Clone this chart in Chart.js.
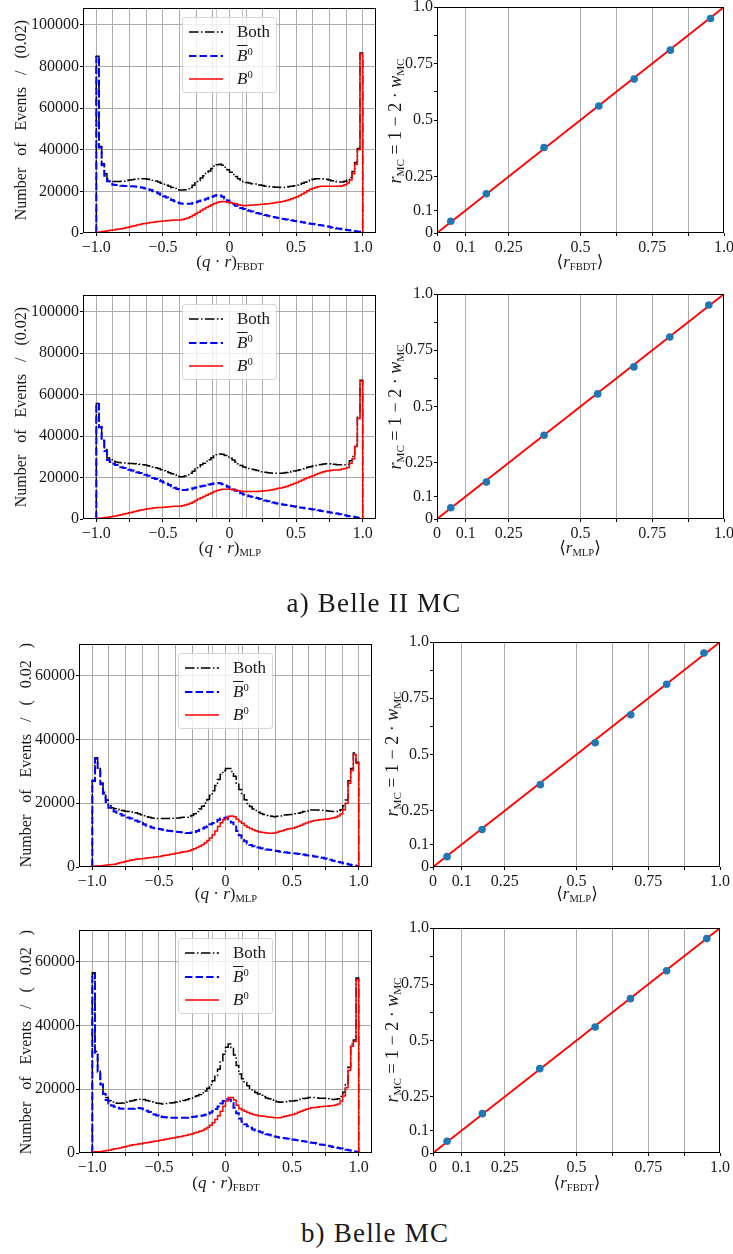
<!DOCTYPE html>
<html>
<head>
<meta charset="utf-8">
<title>Flavour tagger output and calibration</title>
<script src="https://cdn.jsdelivr.net/npm/chart.js@4.4.1/dist/chart.umd.min.js"></script>
<style>
    html, body { margin: 0; padding: 0; background: #ffffff; }
    #page { position: relative; width: 733px; height: 1254px; overflow: hidden;
            font-family: 'Liberation Serif', 'DejaVu Serif', serif; color: #1a1a1a; }
    #page canvas { position: absolute; }
    .txt { position: absolute; white-space: nowrap; line-height: 1; font-size: 17px; }
    .ctr { transform: translate(-50%, -50%); }
    .rot { transform: translate(-50%, -50%) rotate(-90deg); }
    .txt sub, .legend sub { font-size: 0.62em; vertical-align: -0.3em; line-height: 0; }
    .txt sup, .legend sup { font-size: 0.62em; vertical-align: 0.6em; line-height: 0; }
    .ytitle { font-size: 16px; word-spacing: 8px; }
    .caltitle { font-size: 18px; }
    .caption { font-size: 27px; letter-spacing: 1.2px; }
    .legend { position: absolute; width: 95px; height: 76px; box-sizing: border-box;
              border: 1px solid #d6d6d6; border-radius: 3px; background: rgba(255, 255, 255, 0.8); }
    .legend .row { position: absolute; left: 0; width: 100%; height: 20px; }
    .legend svg { position: absolute; left: 6px; top: 8px; }
    .legend .name { position: absolute; left: 54px; top: 0; font-size: 17px; line-height: 20px; }
    .bbar { text-decoration: overline; text-decoration-thickness: 1px; }
</style>
</head>
<body>
<div id="page"></div>
<script>
// Flavour tagger output distributions (left) and r calibration (right)
// Histogram contents are entries per 0.02 bin, in thousands of events

// binning shared by the four histograms: 100 bins on [-1, 1]
const BIN_START = -1.0;
const BIN_WIDTH = 0.02;

// a) Belle II MC, FBDT
const b2FbdtBoth = [
    84.8, 41.5, 33.2, 28.4, 25.9, 24.9, 24.7, 24.7, 24.7, 24.8,
    24.9, 25.2, 25.4, 25.6, 25.8, 26.0, 26.1, 26.1, 26.0, 25.8,
    25.6, 25.3, 25.0, 24.5, 23.9, 23.4, 22.9, 22.4, 21.9, 21.4,
    20.8, 20.6, 20.6, 20.8, 21.2, 21.9, 22.9, 24.1, 25.2, 26.4,
    27.5, 28.6, 29.8, 31.0, 32.1, 32.8, 33.0, 32.5, 31.6, 30.4,
    29.2, 28.1, 27.1, 26.1, 25.3, 24.6, 24.3, 24.0, 23.7, 23.5,
    23.2, 23.0, 22.8, 22.5, 22.3, 22.2, 22.1, 22.0, 22.0, 21.9,
    21.9, 22.1, 22.3, 22.5, 22.7, 23.0, 23.4, 23.9, 24.4, 25.0,
    25.5, 25.8, 26.0, 26.1, 26.1, 26.0, 25.8, 25.4, 25.1, 24.8,
    24.6, 24.5, 24.5, 24.8, 25.4, 26.7, 29.5, 33.8, 40.6, 86.4
];
const b2FbdtB0bar = [
    84.5, 41.0, 32.5, 27.5, 24.8, 23.6, 23.2, 23.0, 22.8, 22.7,
    22.6, 22.6, 22.5, 22.4, 22.3, 22.2, 22.0, 21.7, 21.4, 21.0,
    20.6, 20.1, 19.6, 19.0, 18.3, 17.6, 17.0, 16.4, 15.8, 15.2,
    14.6, 14.3, 14.1, 14.0, 14.0, 14.1, 14.4, 14.8, 15.2, 15.6,
    16.0, 16.4, 16.9, 17.4, 17.9, 18.2, 18.0, 17.4, 16.6, 15.6,
    14.6, 13.8, 13.1, 12.5, 12.0, 11.5, 11.1, 10.7, 10.3, 10.0,
    9.6, 9.3, 9.0, 8.6, 8.3, 8.0, 7.7, 7.4, 7.2, 6.9,
    6.7, 6.5, 6.3, 6.1, 5.8, 5.6, 5.4, 5.2, 4.9, 4.7,
    4.5, 4.3, 4.1, 3.9, 3.7, 3.5, 3.3, 3.0, 2.7, 2.4,
    2.2, 2.0, 1.8, 1.6, 1.4, 1.2, 1.0, 0.8, 0.6, 0.4
];
const b2FbdtB0 = [
    0.3, 0.5, 0.7, 0.9, 1.1, 1.3, 1.5, 1.7, 1.9, 2.1,
    2.3, 2.6, 2.9, 3.2, 3.5, 3.8, 4.1, 4.4, 4.6, 4.8,
    5.0, 5.2, 5.4, 5.5, 5.6, 5.8, 5.9, 6.0, 6.1, 6.2,
    6.2, 6.3, 6.5, 6.8, 7.2, 7.8, 8.5, 9.3, 10.0, 10.8,
    11.5, 12.2, 12.9, 13.6, 14.2, 14.6, 15.0, 15.1, 15.0, 14.8,
    14.6, 14.3, 14.0, 13.6, 13.3, 13.1, 13.2, 13.3, 13.4, 13.5,
    13.6, 13.7, 13.8, 13.9, 14.0, 14.2, 14.4, 14.6, 14.8, 15.0,
    15.2, 15.6, 16.0, 16.4, 16.9, 17.4, 18.0, 18.7, 19.5, 20.3,
    21.0, 21.5, 21.9, 22.2, 22.4, 22.5, 22.5, 22.4, 22.4, 22.4,
    22.4, 22.5, 22.7, 23.2, 24.0, 25.5, 28.5, 33.0, 40.0, 86.0
];

// a) Belle II MC, MLP
const b2MlpBoth = [
    55.7, 44.6, 38.0, 33.5, 29.4, 28.6, 27.9, 27.5, 27.3, 27.1,
    27.0, 26.9, 26.8, 26.7, 26.6, 26.5, 26.4, 26.2, 26.0, 25.7,
    25.4, 25.1, 24.7, 24.3, 23.8, 23.3, 22.8, 22.3, 21.8, 21.2,
    20.6, 20.4, 20.4, 20.7, 21.3, 22.0, 23.0, 24.1, 25.2, 26.1,
    26.9, 27.8, 28.6, 29.5, 30.4, 31.0, 31.3, 31.2, 30.6, 29.9,
    29.3, 28.4, 27.5, 26.6, 25.8, 25.1, 24.7, 24.3, 24.0, 23.7,
    23.4, 23.1, 22.8, 22.5, 22.3, 22.2, 22.1, 22.1, 22.1, 22.1,
    22.2, 22.4, 22.6, 22.9, 23.1, 23.4, 23.8, 24.2, 24.6, 24.9,
    25.2, 25.5, 25.8, 26.1, 26.3, 26.5, 26.6, 26.6, 26.5, 26.4,
    26.2, 26.1, 26.1, 26.2, 26.3, 28.1, 30.1, 35.9, 49.0, 66.9
];
const b2MlpB0bar = [
    55.4, 44.2, 37.5, 32.8, 28.5, 27.5, 26.6, 26.0, 25.5, 25.0,
    24.6, 24.2, 23.8, 23.4, 23.0, 22.6, 22.2, 21.7, 21.3, 20.8,
    20.3, 19.8, 19.3, 18.8, 18.2, 17.6, 17.0, 16.4, 15.8, 15.1,
    14.5, 14.2, 14.0, 14.0, 14.2, 14.4, 14.8, 15.2, 15.6, 15.8,
    16.0, 16.3, 16.6, 16.9, 17.2, 17.3, 17.2, 16.8, 16.2, 15.5,
    14.9, 14.2, 13.6, 13.0, 12.4, 11.8, 11.4, 11.0, 10.7, 10.4,
    10.1, 9.7, 9.3, 8.9, 8.5, 8.2, 7.9, 7.6, 7.3, 7.1,
    6.9, 6.7, 6.5, 6.3, 6.0, 5.8, 5.6, 5.4, 5.2, 5.0,
    4.8, 4.6, 4.4, 4.2, 3.9, 3.7, 3.5, 3.3, 3.0, 2.8,
    2.6, 2.3, 2.0, 1.8, 1.5, 1.3, 1.1, 0.9, 0.6, 0.4
];
const b2MlpB0 = [
    0.3, 0.4, 0.5, 0.7, 0.9, 1.1, 1.3, 1.5, 1.8, 2.1,
    2.4, 2.7, 3.0, 3.3, 3.6, 3.9, 4.2, 4.5, 4.7, 4.9,
    5.1, 5.3, 5.4, 5.5, 5.6, 5.7, 5.8, 5.9, 6.0, 6.1,
    6.1, 6.2, 6.4, 6.7, 7.1, 7.6, 8.2, 8.9, 9.6, 10.3,
    10.9, 11.5, 12.0, 12.6, 13.2, 13.7, 14.1, 14.4, 14.4, 14.4,
    14.4, 14.2, 13.9, 13.6, 13.4, 13.3, 13.3, 13.3, 13.3, 13.3,
    13.3, 13.4, 13.5, 13.6, 13.8, 14.0, 14.2, 14.5, 14.8, 15.0,
    15.3, 15.7, 16.1, 16.6, 17.1, 17.6, 18.2, 18.8, 19.4, 19.9,
    20.4, 20.9, 21.4, 21.9, 22.4, 22.8, 23.1, 23.3, 23.5, 23.6,
    23.6, 23.8, 24.1, 24.4, 24.8, 26.8, 29.0, 35.0, 48.4, 66.5
];

// b) Belle MC, MLP
const bMlpBoth = [
    27.2, 34.3, 30.9, 26.4, 23.5, 21.0, 19.3, 18.6, 18.3, 18.1,
    17.9, 17.7, 17.5, 17.4, 17.3, 17.2, 17.0, 16.7, 16.4, 16.1,
    15.8, 15.6, 15.4, 15.3, 15.2, 15.2, 15.2, 15.2, 15.2, 15.3,
    15.3, 15.4, 15.4, 15.5, 15.6, 15.6, 15.8, 16.2, 16.7, 17.4,
    18.2, 19.1, 20.1, 21.2, 22.5, 23.9, 25.6, 27.5, 29.1, 30.2,
    30.9, 30.9, 30.0, 28.5, 26.3, 24.3, 22.7, 21.1, 19.9, 19.0,
    18.2, 17.7, 17.2, 16.8, 16.5, 16.2, 16.0, 15.9, 15.8, 15.9,
    16.0, 16.1, 16.3, 16.4, 16.5, 16.5, 16.7, 16.9, 17.1, 17.4,
    17.5, 17.7, 17.9, 17.9, 17.9, 17.8, 17.8, 17.7, 17.6, 17.5,
    17.4, 17.4, 17.6, 18.0, 19.2, 21.0, 27.1, 30.9, 35.8, 32.9
];
const bMlpB0bar = [
    27.0, 34.0, 30.6, 26.0, 23.0, 20.4, 18.6, 17.8, 17.4, 17.0,
    16.6, 16.2, 15.8, 15.5, 15.2, 14.9, 14.6, 14.2, 13.8, 13.4,
    13.0, 12.7, 12.4, 12.2, 12.0, 11.9, 11.7, 11.5, 11.4, 11.3,
    11.2, 11.1, 11.0, 10.9, 10.8, 10.7, 10.7, 10.8, 11.0, 11.3,
    11.7, 12.1, 12.5, 12.9, 13.4, 13.8, 14.3, 14.8, 15.2, 15.4,
    15.5, 15.0, 14.0, 12.7, 11.3, 10.0, 9.0, 8.1, 7.4, 6.9,
    6.5, 6.3, 6.1, 5.9, 5.7, 5.5, 5.4, 5.3, 5.1, 5.0,
    4.8, 4.7, 4.6, 4.5, 4.4, 4.3, 4.2, 4.1, 4.0, 3.9,
    3.7, 3.6, 3.5, 3.3, 3.2, 3.0, 2.9, 2.7, 2.5, 2.3,
    2.0, 1.8, 1.6, 1.4, 1.2, 1.0, 0.8, 0.6, 0.5, 0.3
];
const bMlpB0 = [
    0.2, 0.3, 0.3, 0.4, 0.5, 0.6, 0.7, 0.8, 0.9, 1.1,
    1.3, 1.5, 1.7, 1.9, 2.1, 2.3, 2.4, 2.5, 2.6, 2.7,
    2.8, 2.9, 3.0, 3.1, 3.2, 3.3, 3.5, 3.7, 3.8, 4.0,
    4.1, 4.3, 4.4, 4.6, 4.8, 4.9, 5.1, 5.4, 5.7, 6.1,
    6.5, 7.0, 7.6, 8.3, 9.1, 10.1, 11.3, 12.7, 13.9, 14.8,
    15.4, 15.9, 16.0, 15.8, 15.0, 14.3, 13.7, 13.0, 12.5, 12.1,
    11.7, 11.4, 11.1, 10.9, 10.8, 10.7, 10.6, 10.6, 10.7, 10.9,
    11.2, 11.4, 11.7, 11.9, 12.1, 12.2, 12.5, 12.8, 13.1, 13.5,
    13.8, 14.1, 14.4, 14.6, 14.7, 14.8, 14.9, 15.0, 15.1, 15.2,
    15.4, 15.6, 16.0, 16.6, 18.0, 20.0, 26.3, 30.3, 35.3, 32.6
];

// b) Belle MC, FBDT
const bFbdtBoth = [
    56.6, 31.9, 25.9, 22.0, 19.1, 17.4, 16.4, 16.0, 15.8, 15.6,
    15.6, 15.7, 15.9, 16.1, 16.3, 16.5, 16.7, 16.9, 16.9, 16.8,
    16.5, 16.3, 16.0, 15.8, 15.6, 15.5, 15.4, 15.5, 15.5, 15.7,
    15.8, 16.0, 16.2, 16.3, 16.5, 16.7, 17.0, 17.3, 17.7, 18.0,
    18.4, 18.9, 19.5, 20.3, 21.4, 22.7, 24.3, 26.3, 28.6, 31.0,
    33.2, 34.2, 33.1, 30.8, 27.5, 24.8, 23.3, 22.1, 21.1, 20.3,
    19.5, 19.0, 18.5, 18.1, 17.7, 17.3, 17.0, 16.7, 16.3, 16.1,
    15.9, 16.0, 16.1, 16.2, 16.3, 16.3, 16.5, 16.8, 16.9, 17.1,
    17.2, 17.4, 17.4, 17.4, 17.3, 17.2, 17.2, 17.2, 17.0, 16.9,
    16.8, 16.9, 17.0, 17.7, 19.1, 21.5, 26.9, 34.2, 35.5, 54.9
];
const bFbdtB0bar = [
    56.3, 31.5, 25.5, 21.5, 18.5, 16.6, 15.5, 14.9, 14.5, 14.2,
    14.0, 13.9, 13.9, 13.9, 13.9, 13.9, 14.0, 14.1, 14.0, 13.7,
    13.3, 12.9, 12.5, 12.1, 11.8, 11.5, 11.3, 11.2, 11.1, 11.1,
    11.1, 11.1, 11.1, 11.1, 11.1, 11.1, 11.2, 11.3, 11.4, 11.5,
    11.6, 11.8, 12.0, 12.3, 12.7, 13.2, 13.8, 14.6, 15.5, 16.3,
    16.9, 16.8, 15.7, 14.2, 12.5, 10.8, 9.8, 9.0, 8.4, 7.9,
    7.4, 7.1, 6.8, 6.5, 6.2, 5.9, 5.7, 5.5, 5.2, 5.0,
    4.8, 4.7, 4.6, 4.5, 4.4, 4.2, 4.1, 4.0, 3.8, 3.7,
    3.5, 3.4, 3.2, 3.1, 2.9, 2.7, 2.6, 2.5, 2.3, 2.1,
    1.9, 1.8, 1.6, 1.4, 1.2, 1.0, 0.9, 0.7, 0.5, 0.4
];
const bFbdtB0 = [
    0.3, 0.4, 0.4, 0.5, 0.6, 0.8, 0.9, 1.1, 1.3, 1.4,
    1.6, 1.8, 2.0, 2.2, 2.4, 2.6, 2.7, 2.8, 2.9, 3.1,
    3.2, 3.4, 3.5, 3.7, 3.8, 4.0, 4.1, 4.3, 4.4, 4.6,
    4.7, 4.9, 5.1, 5.2, 5.4, 5.6, 5.8, 6.0, 6.3, 6.5,
    6.8, 7.1, 7.5, 8.0, 8.7, 9.5, 10.5, 11.7, 13.1, 14.7,
    16.3, 17.4, 17.4, 16.6, 15.0, 14.0, 13.5, 13.1, 12.7, 12.4,
    12.1, 11.9, 11.7, 11.6, 11.5, 11.4, 11.3, 11.2, 11.1, 11.1,
    11.1, 11.3, 11.5, 11.7, 11.9, 12.1, 12.4, 12.8, 13.1, 13.4,
    13.7, 14.0, 14.2, 14.3, 14.4, 14.5, 14.6, 14.7, 14.7, 14.8,
    14.9, 15.1, 15.4, 16.3, 17.9, 20.5, 26.0, 33.5, 35.0, 54.5
];

// calibration points: mean predicted r vs r measured on MC
const b2FbdtR   = [0.048, 0.172, 0.373, 0.564, 0.687, 0.813, 0.953];
const b2FbdtRmc = [0.052, 0.174, 0.378, 0.562, 0.681, 0.809, 0.949];
const b2MlpR    = [0.048, 0.172, 0.373, 0.560, 0.686, 0.811, 0.947];
const b2MlpRmc  = [0.050, 0.164, 0.372, 0.556, 0.676, 0.809, 0.951];
const bMlpR     = [0.049, 0.171, 0.374, 0.565, 0.689, 0.814, 0.944];
const bMlpRmc   = [0.046, 0.167, 0.366, 0.552, 0.677, 0.812, 0.951];
const bFbdtR    = [0.049, 0.172, 0.372, 0.565, 0.688, 0.814, 0.954];
const bFbdtRmc  = [0.052, 0.175, 0.375, 0.560, 0.686, 0.810, 0.953];

// perfect calibration line
const diagX = [0, 1];
const diagY = [0, 1];

// tick positions and labels
const histXGrid = [-1, -0.875, -0.75, -0.625, -0.5, -0.375, -0.25, -0.125, -0.1, 0,
                   0.1, 0.125, 0.25, 0.375, 0.5, 0.625, 0.75, 0.875, 1];
const histXLabelAt = [-1, -0.5, 0, 0.5, 1];
const histXLabels = ['\u22121.0', '\u22120.5', '0', '0.5', '1.0'];
const histYTicksA = [0, 20000, 40000, 60000, 80000, 100000];
const histYTicksB = [0, 20000, 40000, 60000];
const calTicks = [0, 0.1, 0.25, 0.5, 0.625, 0.75, 0.875, 1];
const calLabelAt = [0, 0.1, 0.25, 0.5, 0.75, 1];
const calLabels = ['0', '0.1', '0.25', '0.5', '0.75', '1.0'];

// Global Chart.js configuration
Chart.defaults.font.family = "'Liberation Serif', 'DejaVu Serif', serif";
Chart.defaults.font.size = 16;
Chart.defaults.color = '#1a1a1a';

const page = document.getElementById('page');
const PAD_TOP = 10;
const PAD_RIGHT = 12;
const AXIS_H = 30;
const GRID = '#ababab';
const NONE = 'rgba(0,0,0,0)';

// black box around the plotting area (all four spines)
const framePlugin = {
    id: 'frame',
    afterDatasetsDraw(chart) {
        const a = chart.chartArea;
        const ctx = chart.ctx;
        ctx.save();
        ctx.strokeStyle = '#000000';
        ctx.lineWidth = 1;
        ctx.strokeRect(a.left + 0.5, a.top + 0.5, a.right - a.left - 1, a.bottom - a.top - 1);
        ctx.restore();
    }
};

function addCanvas(area, canvasLeft) {
    const c = document.createElement('canvas');
    const w = area.right + PAD_RIGHT - canvasLeft;
    const h = area.bottom - area.top + PAD_TOP + AXIS_H;
    c.width = w;
    c.height = h;
    c.style.left = canvasLeft + 'px';
    c.style.top = (area.top - PAD_TOP) + 'px';
    c.style.width = w + 'px';
    c.style.height = h + 'px';
    page.appendChild(c);
    return c;
}

function fixWidth(w) {
    return function(s) {
        s.width = w;
        s.paddingTop = 0; s.paddingBottom = 0; s.paddingLeft = 0; s.paddingRight = 0;
    };
}

function fixHeight(h) {
    return function(s) {
        s.height = h;
        s.paddingTop = 0; s.paddingBottom = 0; s.paddingLeft = 0; s.paddingRight = 0;
    };
}

// outline of a step histogram, one point per left bin edge
function histPoints(counts) {
    const pts = [{ x: BIN_START, y: 0 }];
    counts.forEach((c, i) => pts.push({ x: BIN_START + BIN_WIDTH * i, y: c * 1000 }));
    pts.push({ x: BIN_START + BIN_WIDTH * counts.length, y: 0 });
    return pts;
}

function isQuarter(v) {
    return Math.abs(v * 4 - Math.round(v * 4)) < 1e-6;
}

function histChart(area, canvasLeft, both, bbar, b, yMax, yTicks) {
    const canvas = addCanvas(area, canvasLeft);
    new Chart(canvas, {
        type: 'line',
        data: {
            datasets: [
                { label: 'Both', data: histPoints(both), borderColor: '#000000', borderWidth: 1.5,
                  borderDash: [9.6, 2.4, 1.5, 2.4], stepped: 'before', order: 3 },
                { label: 'B0bar', data: histPoints(bbar), borderColor: '#0000ff', borderWidth: 2,
                  borderDash: [7.4, 3.2], stepped: 'before', order: 2 },
                { label: 'B0', data: histPoints(b), borderColor: '#ff0000', borderWidth: 1.5,
                  stepped: 'before', order: 1 }
            ]
        },
        options: {
            animation: false,
            responsive: false,
            devicePixelRatio: 1,
            layout: { padding: { left: 0, top: PAD_TOP, right: PAD_RIGHT, bottom: 0 } },
            elements: { point: { radius: 0 }, line: { tension: 0, fill: false } },
            plugins: { legend: { display: false }, tooltip: { enabled: false } },
            scales: {
                x: {
                    type: 'linear', min: -1.1, max: 1.1,
                    afterBuildTicks: s => { s.ticks = histXGrid.map(v => ({ value: v })); },
                    afterFit: fixHeight(AXIS_H),
                    border: { display: false },
                    grid: {
                        color: c => (c.tick && !isQuarter(c.tick.value) && Math.abs(c.tick.value) < 0.11) ? '#c4c4c4' : GRID,
                        lineWidth: 1,
                        tickLength: 3,
                        tickColor: c => (c.tick && isQuarter(c.tick.value)) ? '#000000' : NONE
                    },
                    ticks: {
                        autoSkip: false, maxRotation: 0, minRotation: 0, padding: 2,
                        callback: v => {
                            const i = histXLabelAt.indexOf(v);
                            return i >= 0 ? histXLabels[i] : '';
                        }
                    }
                },
                y: {
                    type: 'linear', min: 0, max: yMax,
                    afterBuildTicks: s => { s.ticks = yTicks.map(v => ({ value: v })); },
                    afterFit: fixWidth(area.left - canvasLeft),
                    border: { display: false },
                    grid: {
                        color: c => (c.tick && c.tick.value === 0) ? NONE : GRID,
                        lineWidth: 1,
                        tickLength: 3,
                        tickColor: '#000000'
                    },
                    ticks: { autoSkip: false, padding: 1, callback: v => String(v) }
                }
            }
        },
        plugins: [framePlugin]
    });
}

function calChart(area, canvasLeft, rMean, rMc) {
    const canvas = addCanvas(area, canvasLeft);
    const label = v => {
        const i = calLabelAt.indexOf(v);
        return i >= 0 ? calLabels[i] : '';
    };
    new Chart(canvas, {
        type: 'scatter',
        data: {
            datasets: [
                { label: 'MC', data: rMean.map((x, i) => ({ x: x, y: rMc[i] })),
                  backgroundColor: '#1f77b4', borderWidth: 0, pointRadius: 3.8, order: 0 },
                { label: 'diagonal', data: diagX.map((x, i) => ({ x: x, y: diagY[i] })),
                  showLine: true, borderColor: '#ff0000', borderWidth: 1.8, pointRadius: 0, order: 1 }
            ]
        },
        options: {
            animation: false,
            responsive: false,
            devicePixelRatio: 1,
            layout: { padding: { left: 0, top: PAD_TOP, right: PAD_RIGHT, bottom: 0 } },
            plugins: { legend: { display: false }, tooltip: { enabled: false } },
            scales: {
                x: {
                    type: 'linear', min: 0, max: 1,
                    afterBuildTicks: s => { s.ticks = calTicks.map(v => ({ value: v })); },
                    afterFit: fixHeight(AXIS_H),
                    border: { display: false },
                    grid: {
                        color: c => (c.tick && (c.tick.value === 0 || c.tick.value === 1)) ? NONE : GRID,
                        lineWidth: 1,
                        tickLength: 3,
                        tickColor: '#000000'
                    },
                    ticks: { autoSkip: false, maxRotation: 0, minRotation: 0, padding: 2, callback: label }
                },
                y: {
                    type: 'linear', min: 0, max: 1,
                    afterBuildTicks: s => { s.ticks = calTicks.map(v => ({ value: v })); },
                    afterFit: fixWidth(area.left - canvasLeft),
                    border: { display: false },
                    grid: { drawOnChartArea: false, tickLength: 3, tickColor: '#000000' },
                    ticks: { autoSkip: false, padding: 1, callback: label }
                }
            }
        },
        plugins: [framePlugin]
    });
}

function addText(html, x, y, cls) {
    const d = document.createElement('div');
    d.className = 'txt ' + cls;
    d.style.left = x + 'px';
    d.style.top = y + 'px';
    d.innerHTML = html;
    page.appendChild(d);
}

function addLegend(x, y) {
    const rows = [
        { y: 4, html: 'Both', line: '<line x1="0" y1="2" x2="34" y2="2" stroke="#000" stroke-width="1.5" stroke-dasharray="9.6 2.4 1.5 2.4"/>' },
        { y: 28, html: '<i class="bbar">B</i><sup>0</sup>', line: '<line x1="0" y1="2" x2="34" y2="2" stroke="#0000ff" stroke-width="2" stroke-dasharray="7.4 3.2"/>' },
        { y: 51, html: '<i>B</i><sup>0</sup>', line: '<line x1="0" y1="2" x2="34" y2="2" stroke="#ff0000" stroke-width="1.5"/>' }
    ];
    const box = document.createElement('div');
    box.className = 'legend';
    box.style.left = x + 'px';
    box.style.top = y + 'px';
    box.innerHTML = rows.map(r =>
        '<div class="row" style="top:' + r.y + 'px"><svg width="36" height="4">' + r.line +
        '</svg><span class="name">' + r.html + '</span></div>').join('');
    page.appendChild(box);
}

// plotting areas in page pixels
const AREA = {
    hA1: { left: 83, top: 8, right: 376, bottom: 233 },
    cA1: { left: 437, top: 7, right: 724, bottom: 233 },
    hA2: { left: 83, top: 295, right: 376, bottom: 519 },
    cA2: { left: 437, top: 294, right: 724, bottom: 519 },
    hB1: { left: 79, top: 644, right: 372, bottom: 867 },
    cB1: { left: 433, top: 642, right: 720, bottom: 867 },
    hB2: { left: 79, top: 930, right: 372, bottom: 1153 },
    cB2: { left: 433, top: 928, right: 720, bottom: 1153 }
};

histChart(AREA.hA1, 0, b2FbdtBoth, b2FbdtB0bar, b2FbdtB0, 108000, histYTicksA);
calChart(AREA.cA1, 380, b2FbdtR, b2FbdtRmc);
histChart(AREA.hA2, 0, b2MlpBoth, b2MlpB0bar, b2MlpB0, 108000, histYTicksA);
calChart(AREA.cA2, 380, b2MlpR, b2MlpRmc);
histChart(AREA.hB1, 0, bMlpBoth, bMlpB0bar, bMlpB0, 70000, histYTicksB);
calChart(AREA.cB1, 376, bMlpR, bMlpRmc);
histChart(AREA.hB2, 0, bFbdtBoth, bFbdtB0bar, bFbdtB0, 70000, histYTicksB);
calChart(AREA.cB2, 376, bFbdtR, bFbdtRmc);

// legends
addLegend(182, 17);
addLegend(182, 304);
addLegend(178, 653);
addLegend(178, 938);

// axis titles
const qrFbdt = '(<i>q</i> \u00b7 <i>r</i>)<sub>FBDT</sub>';
const qrMlp = '(<i>q</i> \u00b7 <i>r</i>)<sub>MLP</sub>';
const rFbdt = '\u27e8<i>r</i><sub>FBDT</sub>\u27e9';
const rMlp = '\u27e8<i>r</i><sub>MLP</sub>\u27e9';
const rMc = '<i>r</i><sub>MC</sub> = 1 \u2212 2 \u00b7 <i>w</i><sub>MC</sub>';
const nEvA = 'Number of Events / (0.02)';
const nEvB = 'Number of Events / ( 0.02 )';

addText(qrFbdt, 230, 261, 'ctr');
addText(rFbdt, 580, 261, 'ctr');
addText(qrMlp, 230, 547, 'ctr');
addText(rMlp, 580, 547, 'ctr');
addText(qrMlp, 226, 893, 'ctr');
addText(rMlp, 577, 893, 'ctr');
addText(qrFbdt, 226, 1182, 'ctr');
addText(rFbdt, 577, 1182, 'ctr');

addText(nEvA, 21, 120, 'rot ytitle');
addText(nEvA, 21, 407, 'rot ytitle');
addText(nEvB, 26, 755, 'rot ytitle');
addText(nEvB, 26, 1042, 'rot ytitle');

addText(rMc, 395, 121, 'rot caltitle');
addText(rMc, 395, 407, 'rot caltitle');
addText(rMc, 392, 754, 'rot caltitle');
addText(rMc, 392, 1040, 'rot caltitle');

// sub-figure captions
addText('a) Belle II MC', 374, 603, 'ctr caption');
addText('b) Belle MC', 375, 1233, 'ctr caption');
</script>
</body>
</html>
